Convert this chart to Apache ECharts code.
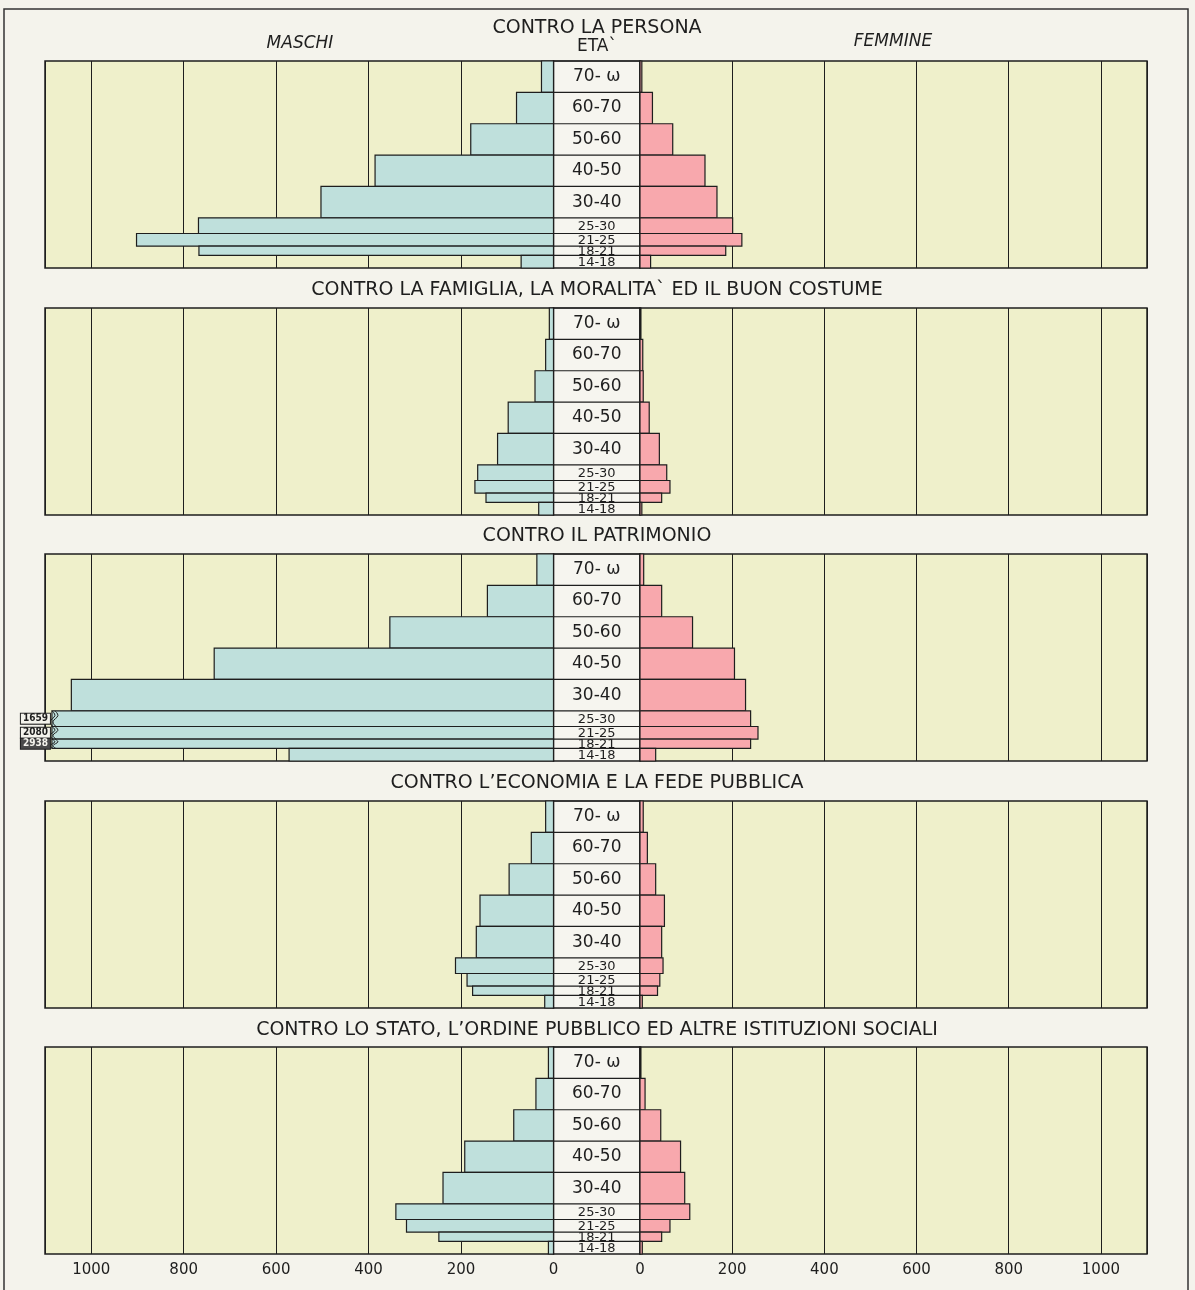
<!DOCTYPE html>
<html>
<head>
<meta charset="utf-8">
<title>Delitti per età e sesso</title>
<script src="https://cdn.jsdelivr.net/npm/echarts@6/dist/echarts.min.js"></script>
<style>
  html, body { margin: 0; padding: 0; background: #f4f3ec; }
  #chart { width: 1195px; height: 1290px; }
</style>
</head>
<body>
<div id="chart"></div>
<script>
// fasce d'età: 70-ω disegnata come 70-80
const ageLabels = ['70- ω', '60-70', '50-60', '40-50', '30-40', '25-30', '21-25', '18-21', '14-18'];
const ageFrom = [70, 60, 50, 40, 30, 25, 21, 18, 14];
const ageTo = [80, 70, 60, 50, 40, 30, 25, 21, 18];

const panelTitles = [
  'CONTRO LA PERSONA',
  'CONTRO LA FAMIGLIA, LA MORALITA` ED IL BUON COSTUME',
  'CONTRO IL PATRIMONIO',
  'CONTRO L’ECONOMIA E LA FEDE PUBBLICA',
  'CONTRO LO STATO, L’ORDINE PUBBLICO ED ALTRE ISTITUZIONI SOCIALI',
];

const maschiPersona = [26, 80, 179, 386, 503, 768, 902, 767, 70];
const femminePersona = [4, 27, 71, 141, 167, 201, 221, 186, 23];
const maschiFamiglia = [9, 17, 40, 98, 121, 164, 170, 146, 32];
const femmineFamiglia = [2, 6, 7, 20, 42, 58, 65, 47, 4];
const maschiPatrimonio = [36, 143, 354, 734, 1043, 1659, 2080, 2938, 572];
const femminePatrimonio = [8, 47, 114, 205, 229, 240, 256, 240, 34];
const maschiEconomia = [17, 48, 96, 159, 167, 212, 187, 175, 19];
const femmineEconomia = [7, 16, 34, 53, 47, 50, 43, 38, 5];
const maschiStato = [11, 38, 86, 192, 239, 341, 318, 248, 11];
const femmineStato = [2, 11, 45, 88, 97, 108, 65, 47, 5];

const maschi = [maschiPersona, maschiFamiglia, maschiPatrimonio, maschiEconomia, maschiStato];
const femmine = [femminePersona, femmineFamiglia, femminePatrimonio, femmineEconomia, femmineStato];

const PANEL_TOP = [61, 308, 554, 801, 1047];
const PANEL_H = 207;
const AXIS_MAX = 1100;
const BAR_CAP = 1085; // barre spezzate oltre la scala
const FONT = "'DejaVu Sans', sans-serif";
const INK = '#1e1e1e';
const COL_M = '#bfe0dc';
const COL_F = '#f8a8ad';
const COL_PLOT = '#eff0cb';
const COL_MID = '#f6f5ef';

const grid = [];
const xAxis = [];
const yAxis = [];
const series = [];

const barSeries = (gi, values, color) => ({
  type: 'custom',
  xAxisIndex: gi,
  yAxisIndex: gi,
  encode: { x: 0, y: [1, 2] },
  data: values.map((v, k) => [v, ageFrom[k], ageTo[k]]),
  renderItem: (params, api) => {
    const v = api.value(0);
    const p0 = api.coord([0, api.value(2)]);
    const p1 = api.coord([Math.min(v, BAR_CAP), api.value(1)]);
    const x = Math.min(p0[0], p1[0]);
    const w = Math.abs(p1[0] - p0[0]);
    const y = p0[1];
    const h = p1[1] - p0[1];
    const children = [{
      type: 'rect',
      shape: { x, y, width: w, height: h },
      style: { fill: color, stroke: INK, lineWidth: 1.2 },
    }];
    if (v > BAR_CAP) {
      [0, 3].forEach((d) => {
        children.push({
          type: 'polyline',
          shape: { points: [[x + d, y], [x + d + 3, y + h * 0.3], [x + d - 2, y + h * 0.7], [x + d + 1, y + h]], smooth: 0.4 },
          style: { fill: 'none', stroke: INK, lineWidth: 1 },
        });
      });
      const dark = params.dataIndex === 7;
      children.push({
        type: 'text',
        x: x - 2,
        y: y + h / 2,
        style: {
          text: String(v),
          align: 'right',
          verticalAlign: 'middle',
          font: "bold 10px 'DejaVu Sans Condensed', 'DejaVu Sans', sans-serif",
          fill: dark ? '#f4f3ec' : INK,
          backgroundColor: dark ? '#4a4a4a' : '#f4f3ec',
          borderColor: INK,
          borderWidth: 1,
          padding: [0, 2, 0, 2],
        },
      });
    }
    return { type: 'group', children };
  },
});

for (let i = 0; i < 5; i++) {
  const top = PANEL_TOP[i];
  const last = i === 4;
  const gl = i * 3, gm = i * 3 + 1, gr = i * 3 + 2;

  grid.push({ left: 45, top, width: 508.5, height: PANEL_H, show: true, backgroundColor: COL_PLOT, borderColor: INK, borderWidth: 1.5 });
  grid.push({ left: 553.5, top, width: 86.5, height: PANEL_H, show: true, backgroundColor: COL_MID, borderColor: INK, borderWidth: 1.5 });
  grid.push({ left: 640, top, width: 507, height: PANEL_H, show: true, backgroundColor: COL_PLOT, borderColor: INK, borderWidth: 1.5 });

  const sideAxis = (gi, inverse) => ({
    gridIndex: gi,
    type: 'value',
    min: 0,
    max: AXIS_MAX,
    interval: 200,
    inverse,
    axisLine: { show: false },
    axisTick: { show: false },
    splitLine: { show: true, lineStyle: { color: INK, width: 1 } },
    axisLabel: {
      show: last,
      showMaxLabel: false,
      margin: 9,
      fontSize: 15,
      color: INK,
      fontFamily: FONT,
      formatter: (v) => String(v),
    },
  });
  xAxis.push(sideAxis(gl, true));
  xAxis.push({ gridIndex: gm, type: 'value', min: 0, max: 1, show: false });
  xAxis.push(sideAxis(gr, false));
  [gl, gm, gr].forEach((gi) => yAxis.push({ gridIndex: gi, type: 'value', min: 14, max: 80, show: false }));

  series.push(barSeries(gl, maschi[i], COL_M));
  series.push({
    type: 'custom',
    xAxisIndex: gm,
    yAxisIndex: gm,
    encode: { y: [0, 1] },
    data: ageLabels.map((l, k) => [ageFrom[k], ageTo[k], k]),
    renderItem: (params, api) => {
      const lo = api.value(0), hi = api.value(1);
      const a = api.coord([0, hi]);
      const b = api.coord([1, lo]);
      const big = hi - lo >= 10;
      return {
        type: 'group',
        children: [
          { type: 'line', shape: { x1: a[0], y1: a[1], x2: b[0], y2: a[1] }, style: { stroke: INK, lineWidth: 1.2 } },
          {
            type: 'text',
            x: (a[0] + b[0]) / 2,
            y: (a[1] + b[1]) / 2 + (big ? 0 : 0.5),
            style: {
              text: ageLabels[api.value(2)],
              align: 'center',
              verticalAlign: 'middle',
              font: (big ? '17px ' : '13px ') + FONT,
              fill: INK,
            },
          },
        ],
      };
    },
  });
  series.push(barSeries(gr, femmine[i], COL_F));
}

const titleY = [28, 290, 536, 783, 1030];
const graphic = [
  { type: 'rect', silent: true, z: -1, shape: { x: 4, y: 9, width: 1184, height: 1300 }, style: { fill: 'none', stroke: '#333', lineWidth: 1.5 } },
  { type: 'text', x: 300, y: 44, style: { text: 'MASCHI', align: 'center', verticalAlign: 'middle', font: 'italic 17px ' + FONT, fill: INK } },
  { type: 'text', x: 893, y: 42, style: { text: 'FEMMINE', align: 'center', verticalAlign: 'middle', font: 'italic 17px ' + FONT, fill: INK } },
  { type: 'text', x: 597, y: 47, style: { text: 'ETA`', align: 'center', verticalAlign: 'middle', font: '17px ' + FONT, fill: INK } },
];
panelTitles.forEach((t, i) => {
  graphic.push({ type: 'text', x: 597, y: titleY[i], style: { text: t, align: 'center', verticalAlign: 'middle', font: '19px ' + FONT, fill: INK } });
});

const chart = echarts.init(document.getElementById('chart'));
chart.setOption({
  backgroundColor: '#f4f3ec',
  animation: false,
  grid,
  xAxis,
  yAxis,
  series,
  graphic,
});
</script>
</body>
</html>
